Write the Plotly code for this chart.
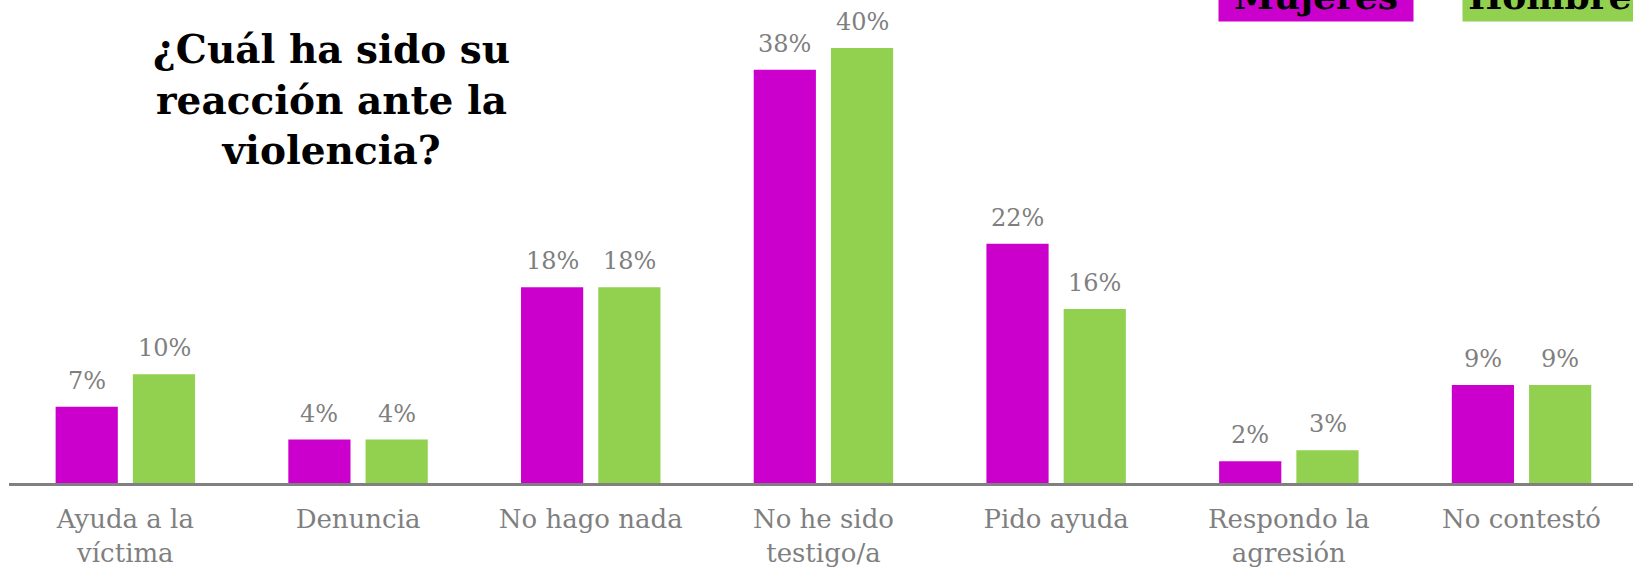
import plotly.graph_objects as go

categories = ["Ayuda a la<br>víctima", "Denuncia", "No hago nada", "No he sido<br>testigo/a",
              "Pido ayuda", "Respondo la<br>agresión", "No contestó"]
mujeres = [7, 4, 18, 38, 22, 2, 9]
hombres = [10, 4, 18, 40, 16, 3, 9]
series_names = ["Mujeres", "Hombres"]
colors = ["#CC00CC", "#92D050"]
title_text = "¿Cuál ha sido su<br>reacción ante la<br>violencia?"

FONT = "Century Schoolbook, DejaVu Serif, serif"
GRAY = "#7F7F7F"
L = 9
PW = 1633 - L
B = 86
PH = 569 - B

fig = go.Figure()
for name, vals, col in zip(series_names, [mujeres, hombres], colors):
    fig.add_trace(go.Bar(x=categories, y=vals, name=name, marker_color=col,
                         marker_line_width=0, showlegend=False))

# value labels
for vals, shift in zip([mujeres, hombres], [-38.7, 38.7]):
    for c, v in zip(categories, vals):
        fig.add_annotation(x=c, y=v, xref="x", yref="y", text=f"{v}%", showarrow=False,
                           xshift=shift, yshift=10, yanchor="bottom",
                           font=dict(family=FONT, size=24, color=GRAY))

# title
fig.add_annotation(x=(331 - L) / PW, y=1 - 99 / PH, xref="paper", yref="paper",
                   text=title_text, showarrow=False, xanchor="center", yanchor="middle",
                   font=dict(family=FONT, size=39, color="black", weight="bold"),
                   align="center")

# legend boxes
for name, col, x0 in zip(series_names, colors, [1218, 1462]):
    fig.add_annotation(x=(x0 - L) / PW, y=1 + 4 / PH, xref="paper", yref="paper",
                       text=f"<b>{name}</b>", showarrow=False, xanchor="left", yanchor="middle",
                       width=194, height=50, bgcolor=col, borderpad=0,
                       font=dict(family=FONT, size=36, color="black"), align="center")

fig.update_layout(
    width=1633, height=569,
    margin=dict(l=L, r=0, t=0, b=B),
    paper_bgcolor="white", plot_bgcolor="white",
    barmode="group", bargap=0.336, bargroupgap=0.195,
    font=dict(family=FONT),
)
fig.update_xaxes(showline=True, linecolor="#808080", linewidth=2.5, showgrid=False,
                 tickfont=dict(family=FONT, size=26, color=GRAY), ticks="",
                 ticklabelstandoff=11, range=[-0.5, 6.479])
fig.update_yaxes(visible=False, range=[0, 44.41], showgrid=False, zeroline=False)

fig.write_html("out.html", config={"displayModeBar": False},
               post_script="document.body.style.margin='0px';")
